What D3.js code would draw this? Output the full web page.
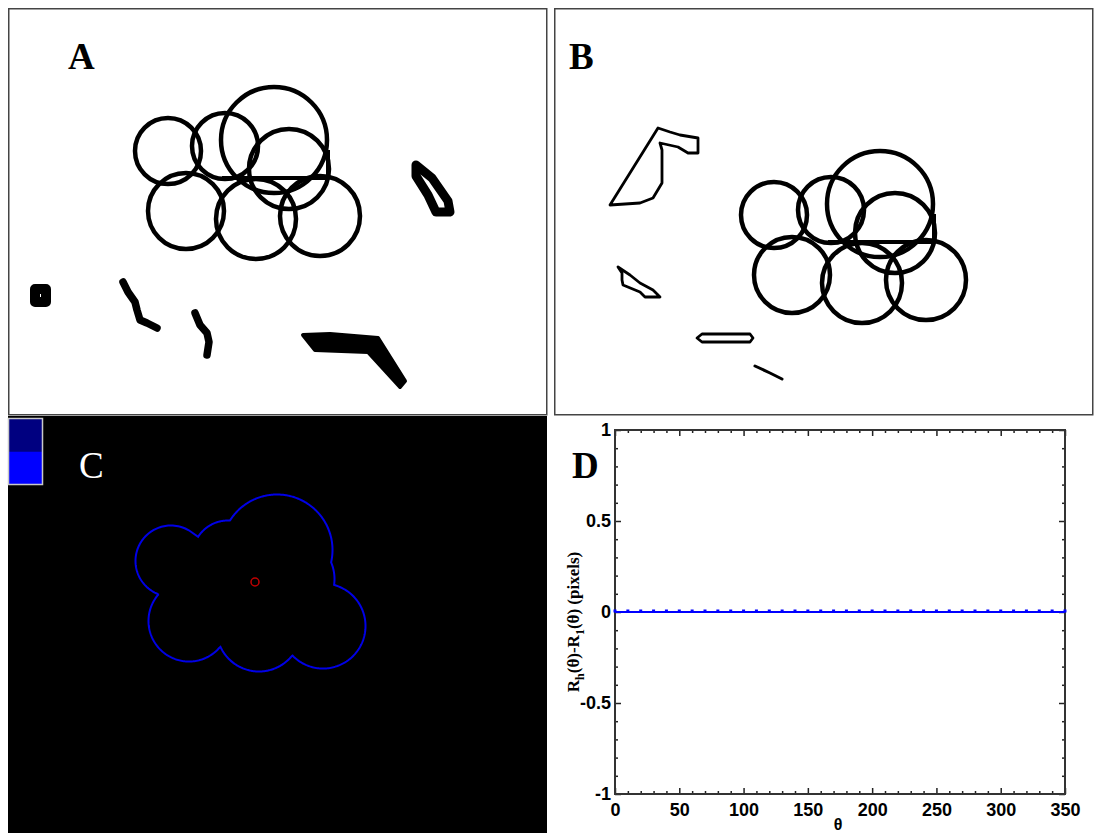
<!DOCTYPE html>
<html>
<head>
<meta charset="utf-8">
<script src="https://cdn.jsdelivr.net/npm/d3@7"></script>
<style>
  html, body { margin: 0; padding: 0; background: #fff; }
  svg { display: block; }
</style>
</head>
<body>
<svg id="fig" width="1100" height="833"></svg>
<script>
// ---- Cell cluster: circle centres relative to the cluster anchor, and radii (px)
const clusterX = [-106, -49, 0, 15, -88, -18, 46];
const clusterY = [11, 6, 0, 29, 71, 79, 76];
const clusterR = [33, 33, 53, 40, 38, 40, 40];
// straight boundary segment left inside the cluster after segmentation
const clusterChord = [[-52, 38], [54, 38], [54, 10]];

// cluster anchors inside each image panel (panel-local px)
const anchorA = [266, 132];
const anchorB = [326, 196];
const anchorC = [269, 134];
const centroidC = [247, 166];

// ---- Other objects in image A (panel-local px)
const aBlob   = [[27, 281], [38, 281], [38, 294], [27, 294]];
const aStreak1 = [[115, 274], [120, 284], [127, 294], [129, 302], [132, 312], [139, 315], [149, 320]];
const aStreak2 = [[187, 305], [192, 317], [199, 325], [201, 334], [199, 347]];
const aBar    = [[295, 327], [322, 326], [370, 330], [397, 373], [392, 379], [360, 344], [307, 342]];
const aLoop   = [[408, 157], [424, 170], [440, 193], [442, 204], [428, 204], [420, 187], [408, 168]];

// ---- Other objects in image B (panel-local px)
const bBoot = [[56, 197], [104, 120], [116, 124], [126, 127], [144, 130], [144, 145], [134, 145],
               [124, 139], [106, 135], [108, 142], [108, 175], [99, 190], [86, 195]];
const bSliver = [[64, 259], [76, 267], [86, 275], [99, 282], [106, 289], [91, 289], [86, 284],
                 [69, 277], [68, 272], [68, 265]];
const bCapsule = [[143, 330], [148, 326], [196, 326], [199, 330], [196, 334], [148, 334]];
const bDash = [[201, 358], [216, 365], [228, 371]];

// ---- Panel D: radial difference vs angle
const thetaDeg = d3.range(0, 360, 10);
const radialDiff = [0,0,0,0,0,0,0,0,0,0,0,0,0,0,0,0,0,0,0,0,0,0,0,0,0,0,0,0,0,0,0,0,0,0,0,0];
const xMajorTicks = [0, 50, 100, 150, 200, 250, 300, 350];
const yMajorTicks = [-1, -0.5, 0, 0.5, 1];

const svg = d3.select("#fig");
const serif = "'Liberation Serif', 'Times New Roman', serif";
const sans = "'Liberation Sans', Arial, sans-serif";
const line = d3.line();
const closed = d3.line().curve(d3.curveLinearClosed);

function drawCluster(g, anchor, width) {
  const cx = d3.scaleLinear().domain([0, 1]).range([anchor[0], anchor[0] + 1]);
  const cy = d3.scaleLinear().domain([0, 1]).range([anchor[1], anchor[1] + 1]);
  g.selectAll("circle.cell").data(clusterR).join("circle")
    .attr("class", "cell")
    .attr("cx", (d, i) => cx(clusterX[i]))
    .attr("cy", (d, i) => cy(clusterY[i]))
    .attr("r", d => d)
    .attr("fill", "none").attr("stroke", "#000").attr("stroke-width", width);
  g.append("path")
    .attr("d", line(clusterChord.map(p => [cx(p[0]), cy(p[1])])))
    .attr("fill", "none").attr("stroke", "#000").attr("stroke-width", width - 0.5)
    .attr("stroke-linejoin", "round");
}

function panelLabel(g, txt, x, y, color, weight) {
  g.append("text").attr("x", x).attr("y", y).text(txt)
    .attr("font-family", serif).attr("font-size", 37).attr("font-weight", weight)
    .attr("fill", color);
}

// ================= Panel A =================
const gA = svg.append("g").attr("transform", "translate(8,8)");
gA.append("rect").attr("x", 0.75).attr("y", 0.75).attr("width", 538).attr("height", 406)
  .attr("fill", "#fff").attr("stroke", "#444").attr("stroke-width", 1.5);
panelLabel(gA, "A", 60, 61, "#000", "bold");
drawCluster(gA, anchorA, 4.5);
gA.append("path").attr("d", closed(aBlob)).attr("fill", "none").attr("stroke", "#000")
  .attr("stroke-width", 10).attr("stroke-linejoin", "round");
[aStreak1, aStreak2].forEach(pts => {
  gA.append("path").attr("d", line(pts)).attr("fill", "none").attr("stroke", "#000")
    .attr("stroke-width", 7.5).attr("stroke-linejoin", "round").attr("stroke-linecap", "round");
});
gA.append("path").attr("d", closed(aBar)).attr("fill", "#000").attr("stroke", "#000")
  .attr("stroke-width", 4).attr("stroke-linejoin", "round");
gA.append("path").attr("d", closed(aLoop)).attr("fill", "none").attr("stroke", "#000")
  .attr("stroke-width", 9).attr("stroke-linejoin", "round");

// ================= Panel B =================
const gB = svg.append("g").attr("transform", "translate(554,8)");
gB.append("rect").attr("x", 0.75).attr("y", 0.75).attr("width", 538).attr("height", 406)
  .attr("fill", "#fff").attr("stroke", "#444").attr("stroke-width", 1.5);
panelLabel(gB, "B", 15, 61, "#000", "bold");
drawCluster(gB, anchorB, 4.5);
[bBoot, bSliver, bCapsule].forEach(pts => {
  gB.append("path").attr("d", closed(pts)).attr("fill", "none").attr("stroke", "#000")
    .attr("stroke-width", 2.8).attr("stroke-linejoin", "round");
});
gB.append("path").attr("d", line(bDash)).attr("fill", "none").attr("stroke", "#000")
  .attr("stroke-width", 3).attr("stroke-linecap", "round");

// ================= Panel C =================
const gC = svg.append("g").attr("transform", "translate(8,416)");
gC.append("rect").attr("x", 0).attr("y", 0).attr("width", 539).attr("height", 417).attr("fill", "#000");
// colour key squares
const keyColors = ["#000080", "#0000ff"];
gC.selectAll("rect.key").data(keyColors).join("rect")
  .attr("class", "key")
  .attr("x", 0.5).attr("y", (d, i) => 2.5 + i * 33)
  .attr("width", 34).attr("height", 33)
  .attr("fill", d => d);
gC.append("rect").attr("x", 0.5).attr("y", 2.5).attr("width", 34).attr("height", 66)
  .attr("fill", "none").attr("stroke", "#c8c8c8").attr("stroke-width", 1.5);
panelLabel(gC, "C", 71, 62, "#fff", "normal");

// outer contour of the cluster traced as R(theta) from the centroid
const pad = 2.5;
const rayAngles = d3.range(0, 360, 0.5);
const contour = rayAngles.map(a => {
  const t = a * Math.PI / 180, dx = Math.cos(t), dy = Math.sin(t);
  let best = 0;
  clusterR.forEach((r, i) => {
    const ox = anchorC[0] + clusterX[i] - centroidC[0];
    const oy = anchorC[1] + clusterY[i] - centroidC[1];
    const b = dx * ox + dy * oy;
    const disc = b * b - (ox * ox + oy * oy - (r + pad) * (r + pad));
    if (disc >= 0) best = Math.max(best, b + Math.sqrt(disc));
  });
  return [centroidC[0] + best * dx, centroidC[1] + best * dy];
});
gC.append("path").attr("d", closed(contour)).attr("fill", "none")
  .attr("stroke", "#0000e6").attr("stroke-width", 2);
gC.append("circle").attr("cx", centroidC[0]).attr("cy", centroidC[1]).attr("r", 4)
  .attr("fill", "none").attr("stroke", "#c00000").attr("stroke-width", 1.5);

// ================= Panel D =================
const gD = svg.append("g");
const x = d3.scaleLinear().domain([0, 350]).range([615, 1065]);
const y = d3.scaleLinear().domain([-1, 1]).range([794, 430]);
const xMinor = d3.range(0, 351, 10).filter(v => v % 50 !== 0);
const yMinor = d3.range(-10, 11).map(v => v / 10).filter(v => Math.abs(v * 2 - Math.round(v * 2)) > 1e-9);

panelLabel(gD, "D", 572, 478, "#000", "bold");

function styleAxis(sel) {
  sel.selectAll(".domain").remove();
  sel.selectAll(".tick line").attr("stroke", "#222").attr("stroke-width", 1.5);
  sel.selectAll("text").attr("font-family", sans).attr("font-size", 18)
    .attr("font-weight", "bold").attr("fill", "#000");
}

// bottom / top
gD.append("g").attr("transform", `translate(0,${y(-1)})`)
  .call(d3.axisBottom(x).tickValues(xMajorTicks).tickSize(-6).tickPadding(9).tickFormat(d => String(d)))
  .call(styleAxis);
gD.append("g").attr("transform", `translate(0,${y(-1)})`)
  .call(d3.axisBottom(x).tickValues(xMinor).tickSize(-3).tickFormat(""))
  .call(styleAxis);
gD.append("g").attr("transform", `translate(0,${y(1)})`)
  .call(d3.axisTop(x).tickValues(xMajorTicks).tickSize(-6).tickFormat(""))
  .call(styleAxis);
gD.append("g").attr("transform", `translate(0,${y(1)})`)
  .call(d3.axisTop(x).tickValues(xMinor).tickSize(-3).tickFormat(""))
  .call(styleAxis);
// left / right
gD.append("g").attr("transform", `translate(${x(0)},0)`)
  .call(d3.axisLeft(y).tickValues(yMajorTicks).tickSize(-6).tickPadding(4).tickFormat(d => String(d)))
  .call(styleAxis);
gD.append("g").attr("transform", `translate(${x(0)},0)`)
  .call(d3.axisLeft(y).tickValues(yMinor).tickSize(-3).tickFormat(""))
  .call(styleAxis);
gD.append("g").attr("transform", `translate(${x(350)},0)`)
  .call(d3.axisRight(y).tickValues(yMajorTicks).tickSize(-6).tickFormat(""))
  .call(styleAxis);
gD.append("g").attr("transform", `translate(${x(350)},0)`)
  .call(d3.axisRight(y).tickValues(yMinor).tickSize(-3).tickFormat(""))
  .call(styleAxis);

gD.append("rect").attr("x", x(0)).attr("y", y(1))
  .attr("width", x(350) - x(0)).attr("height", y(-1) - y(1))
  .attr("fill", "none").attr("stroke", "#333").attr("stroke-width", 2);

// data line with markers
const series = thetaDeg.map((t, i) => [t, radialDiff[i]]);
gD.append("path")
  .attr("d", d3.line().x(d => x(d[0])).y(d => y(d[1]))([...series, [350, radialDiff[radialDiff.length - 1]]]))
  .attr("fill", "none").attr("stroke", "#0000ff").attr("stroke-width", 2);
gD.selectAll("rect.mk").data(series).join("rect")
  .attr("class", "mk")
  .attr("x", d => x(d[0]) - 1.5).attr("y", d => y(d[1]) - 2.5)
  .attr("width", 3).attr("height", 3).attr("fill", "#0000ff");

// axis titles
gD.append("text").attr("x", 838).attr("y", 830).attr("text-anchor", "middle")
  .attr("font-family", sans).attr("font-size", 16).attr("font-weight", "bold").text("θ");

const yTitle = gD.append("text")
  .attr("transform", "translate(579,622) rotate(-90)")
  .attr("text-anchor", "middle")
  .attr("font-family", serif).attr("font-size", 17).attr("font-weight", "bold").attr("fill", "#000");
yTitle.append("tspan").text("R");
yTitle.append("tspan").attr("dy", 5).attr("font-size", 12).text("h");
yTitle.append("tspan").attr("dy", -5).text("(θ)-R");
yTitle.append("tspan").attr("dy", 5).attr("font-size", 12).text("1");
yTitle.append("tspan").attr("dy", -5).text("(θ) (pixels)");
</script>
</body>
</html>
